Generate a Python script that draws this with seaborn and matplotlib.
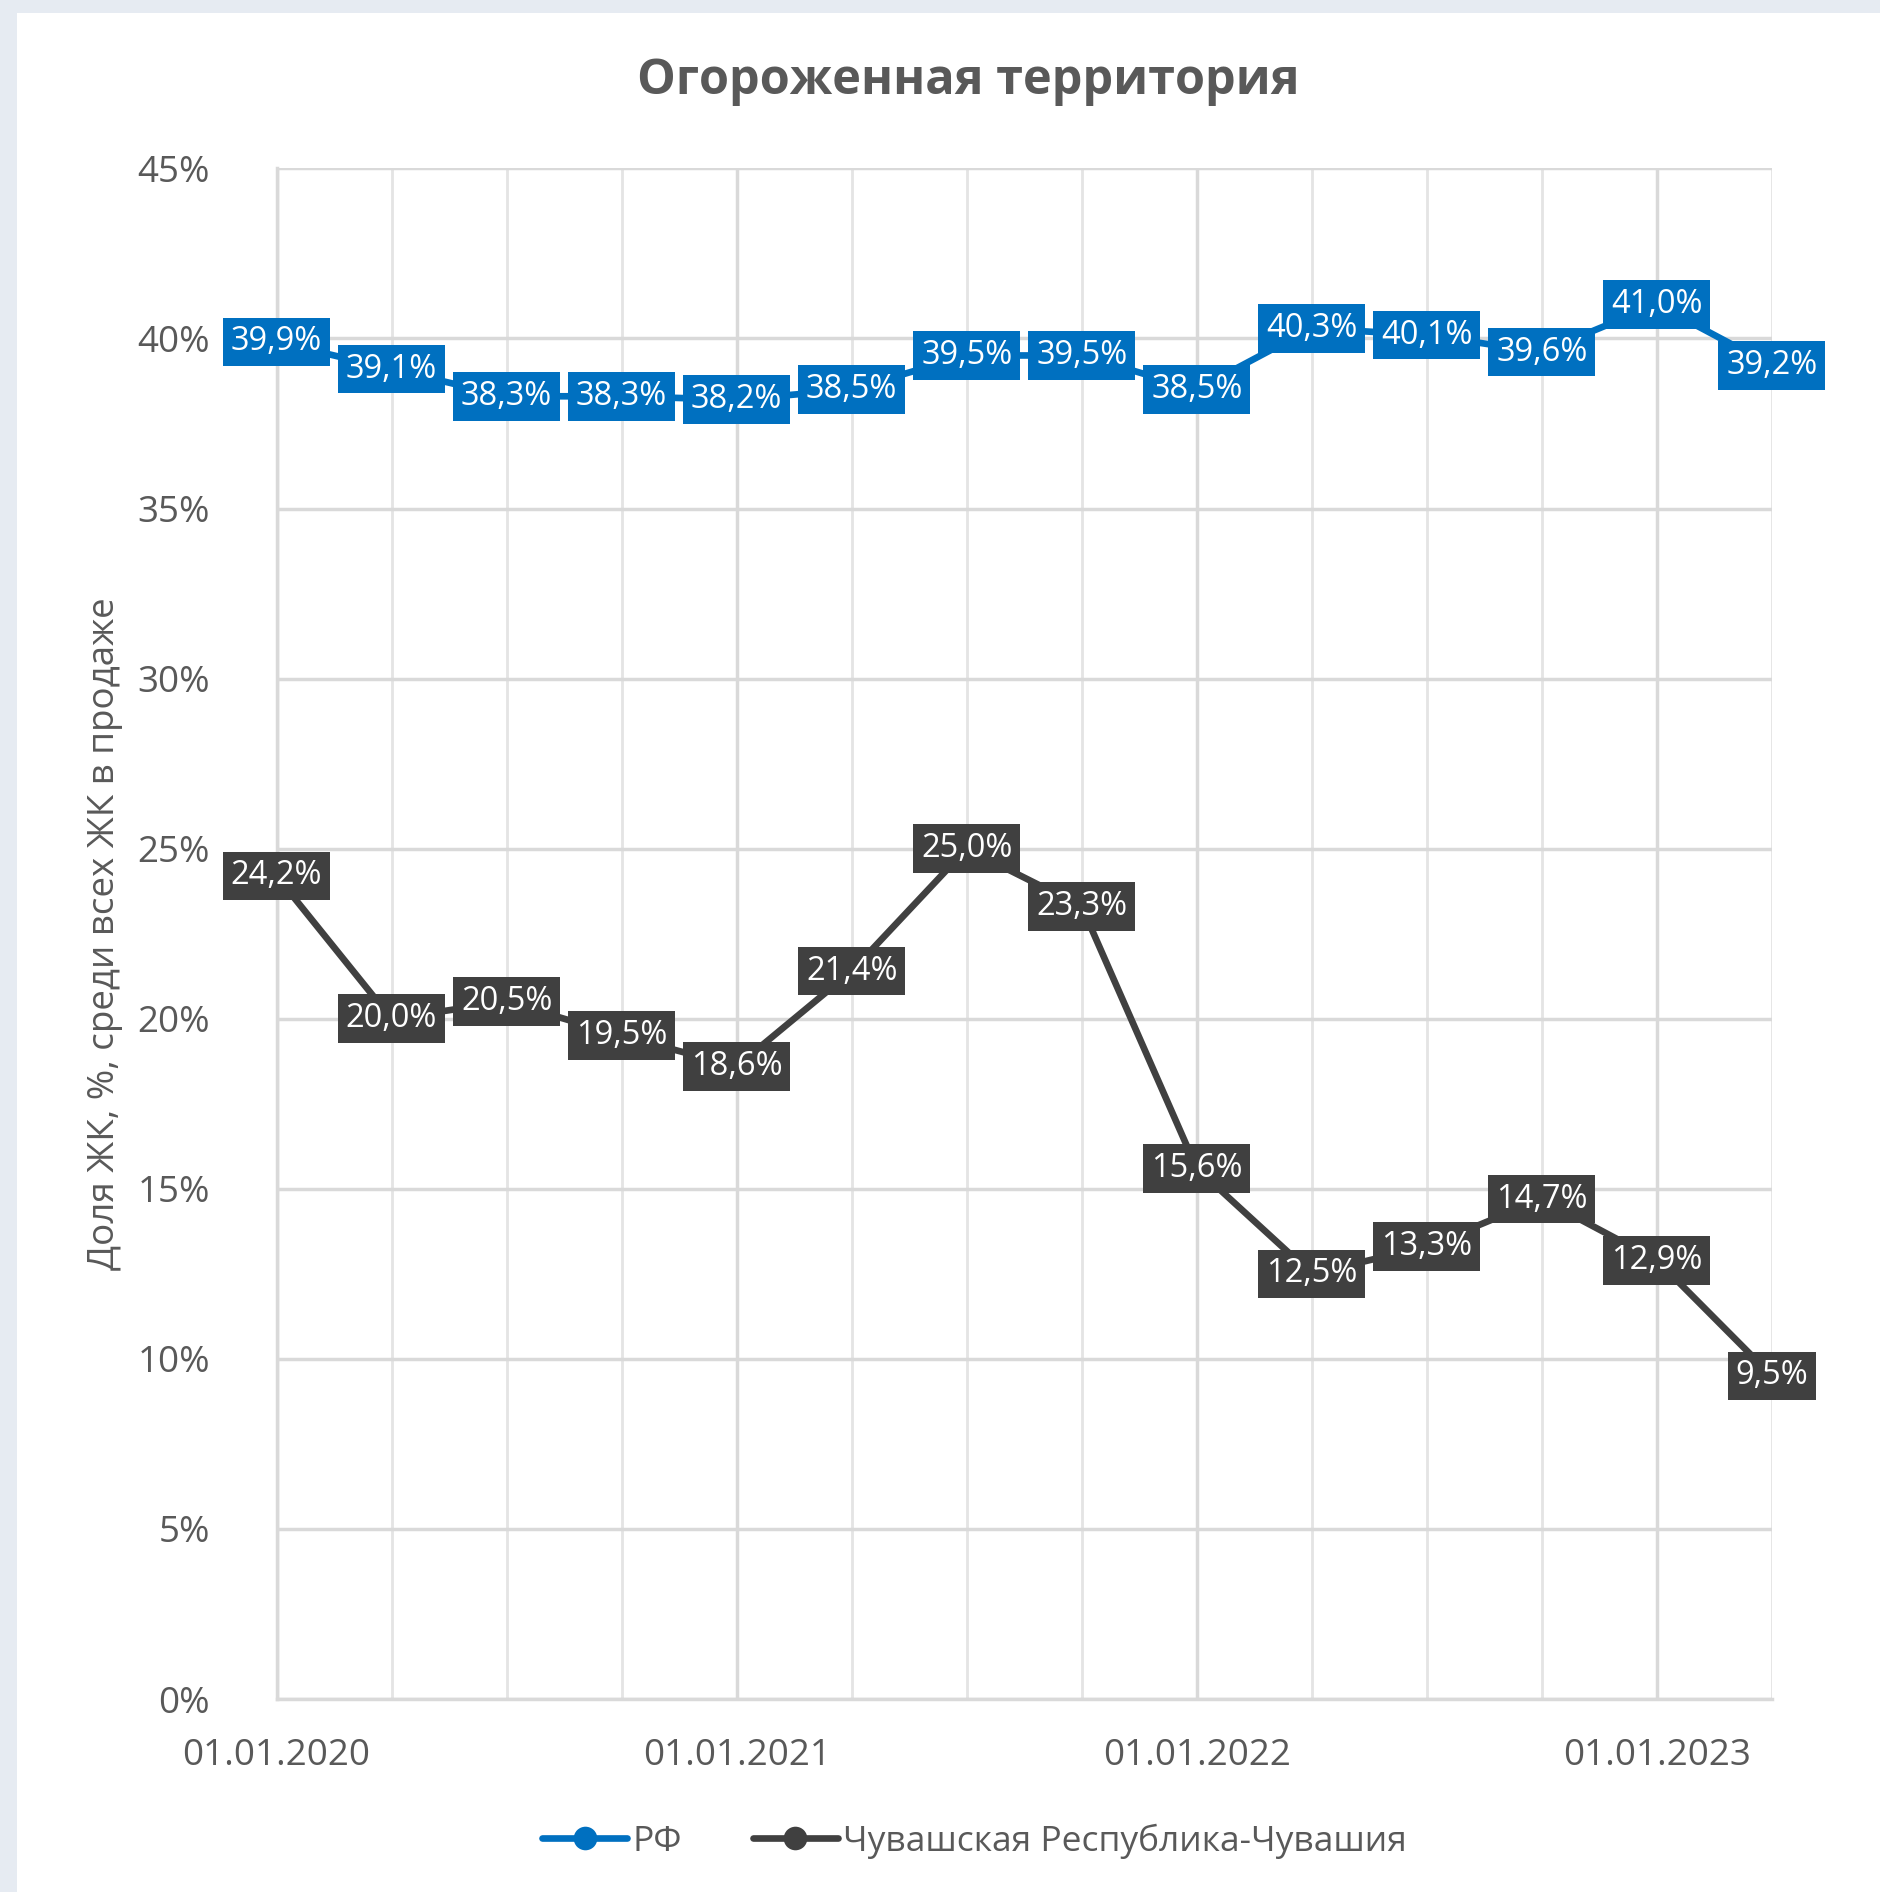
import matplotlib
matplotlib.use("Agg")
import matplotlib.pyplot as plt
import seaborn as sns
import pandas as pd

# quarterly dates, labels only on January
dates = ["01.01.2020", "01.04.2020", "01.07.2020", "01.10.2020",
         "01.01.2021", "01.04.2021", "01.07.2021", "01.10.2021",
         "01.01.2022", "01.04.2022", "01.07.2022", "01.10.2022",
         "01.01.2023", "01.04.2023"]
rf = [39.9, 39.1, 38.3, 38.3, 38.2, 38.5, 39.5, 39.5, 38.5, 40.3, 40.1, 39.6, 41.0, 39.2]
chuv = [24.2, 20.0, 20.5, 19.5, 18.6, 21.4, 25.0, 23.3, 15.6, 12.5, 13.3, 14.7, 12.9, 9.5]
series_names = ["РФ", "Чувашская Республика-Чувашия"]
colors = ["#0070C0", "#404040"]
yticks = [0, 5, 10, 15, 20, 25, 30, 35, 40, 45]

sns.set_style("white")
plt.rcParams['font.family'] = ['Open Sans', 'DejaVu Sans']

df = pd.DataFrame({
    "pos": list(range(len(dates))) * 2,
    "value": rf + chuv,
    "series": [series_names[0]] * len(rf) + [series_names[1]] * len(chuv),
})

fig = plt.figure(figsize=(18.81, 18.92), dpi=100)
fig.patch.set_facecolor("#e6ebf2")
# white card
fig.add_artist(plt.Rectangle((17 / 1881, 0), 1, 1 - 13 / 1892, transform=fig.transFigure,
                             facecolor="white", edgecolor="none", zorder=0))
ax = fig.add_axes([0.147, 0.102, 0.795, 0.809])
ax.set_facecolor("white")

sns.lineplot(data=df, x="pos", y="value", hue="series", palette=colors,
             linewidth=4.8, marker="o", markersize=17, markeredgewidth=0, ax=ax,
             legend=True, zorder=3)

# data labels, centred on the points
for vals, col in zip([rf, chuv], colors):
    for i, v in enumerate(vals):
        ax.text(i, v, f"{v:.1f}%".replace(".", ","), ha="center", va="center",
                color="white", fontsize=23.5, zorder=5,
                bbox=dict(boxstyle="square,pad=0.24", facecolor=col, edgecolor="none"))

ax.set_xlim(0, len(dates) - 1)
ax.set_ylim(0, 45)
ax.set_yticks(yticks)
ax.set_yticklabels([f"{t}%" for t in yticks])
ax.set_xticks(range(len(dates)), minor=True)
ax.set_xticks([i for i, d in enumerate(dates) if d.startswith("01.01")])
ax.set_xticklabels([d for d in dates if d.startswith("01.01")])
ax.grid(axis="y", color="#d9d9d9", linewidth=2.5)
ax.grid(axis="x", which="both", color="#e4e4e4", linewidth=2)
ax.grid(axis="x", which="major", color="#d9d9d9", linewidth=2.5)
ax.set_axisbelow(True)
for s in ["top", "right"]:
    ax.spines[s].set_visible(False)
for s in ["left", "bottom"]:
    ax.spines[s].set_color("#d9d9d9")
    ax.spines[s].set_linewidth(2.5)
ax.tick_params(axis="both", which="both", length=0, labelsize=26.5, labelcolor="#595959")
ax.tick_params(axis="y", pad=48)
ax.tick_params(axis="x", pad=28)
ax.set_xlabel("")
ax.set_ylabel("Доля ЖК, %, среди всех ЖК в продаже", fontsize=26.5, color="#595959", labelpad=10)

fig.text(0.515, 0.957, "Огороженная территория", ha="center", va="center",
         fontsize=35, fontweight="bold", color="#595959")

handles, labels = ax.get_legend_handles_labels()
ax.legend(handles, labels, loc="center", bbox_to_anchor=(0.518, 0.027),
          bbox_transform=fig.transFigure, ncol=2, frameon=False, fontsize=25.5,
          labelcolor="#595959", handlelength=2.4, handletextpad=0.15, columnspacing=2.0)

fig.savefig("out.png", dpi=100, facecolor=fig.get_facecolor())
